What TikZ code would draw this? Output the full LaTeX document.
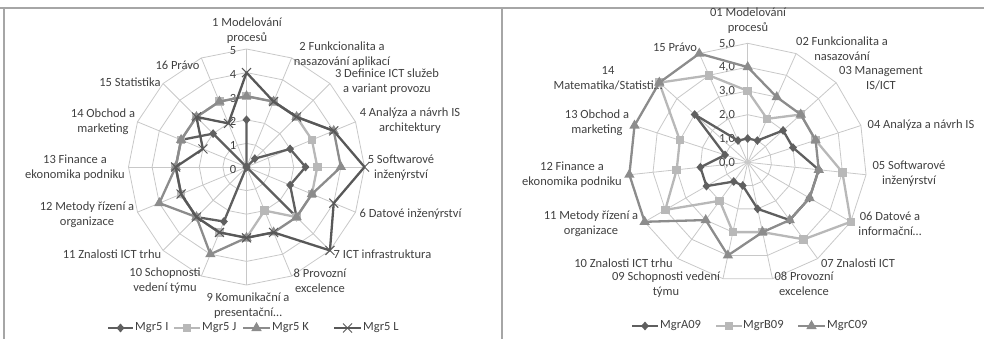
\documentclass[tikz,border=0pt]{standalone}
\usepackage{fontspec}
\setmainfont{Carlito}
\usetikzlibrary{shapes.geometric,shapes.misc}

\definecolor{txt}{HTML}{404040}
\definecolor{gridc}{HTML}{C8C8C8}
\definecolor{framec}{HTML}{A6A6A6}
\definecolor{sdark}{HTML}{5F5F5F}
\definecolor{slight}{HTML}{B8B8B8}
\definecolor{smid}{HTML}{8C8C8C}
\definecolor{sx}{HTML}{585858}

\tikzset{
  lbl/.style={font=\fontsize{12.5}{15}\selectfont, text=txt, align=center, inner sep=0pt},
  gridline/.style={draw=gridc, line width=0.8pt},
  series/.style={line width=2.3pt, line join=round},
  mkdia/.style={diamond, fill=sdark, inner sep=0pt, minimum width=8pt, minimum height=9pt},
  mksq/.style={rectangle, fill=slight, inner sep=0pt, minimum size=8.5pt},
  mktri/.style={regular polygon, regular polygon sides=3, fill=smid, inner sep=0pt, minimum size=12pt},
  mkx/.style={cross out, draw=sx, line width=1pt, inner sep=0pt, minimum size=8pt},
  framel/.style={draw=framec, line width=1.5pt},
}

\begin{document}
\begin{tikzpicture}[x=1pt,y=-1pt]
\useasboundingbox (0,0) rectangle (984,339);

% chart frames
\coordinate (ftl) at (0,8);
\coordinate (ftr) at (984,8);
\coordinate (fl1) at (4,8);
\coordinate (fl2) at (4,339);
\coordinate (fm1) at (502,8);
\coordinate (fm2) at (502,339);
\draw[framel] (ftl) -- (ftr);
\draw[framel] (fl1) -- (fl2);
\draw[framel, line width=2pt] (fm1) -- (fm2);

% ---------------- left radar: 16 axes, scale 0..5 ----------------
\begin{scope}[shift={(246.5,167)}]
  \def\u{23.6}
  \foreach \r in {1,...,5}
    \draw[gridline] (-90:{\r*\u}) \foreach \k in {1,...,15}{ -- ({-90+\k*22.5}:{\r*\u}) } -- cycle;
  \foreach \k in {0,...,15}
    \draw[gridline] (0,0) -- ({-90+\k*22.5}:{5*\u});
  \foreach \v in {0,...,5}
    \node[lbl] (lt\v) at (-13.5,{-\v*\u+2}) {\v};

  \foreach \v [count=\k from 0] in {2,0,0.5,2,2.5,2,3,0,0,2.5,3,3,3,3,2,0}
    \coordinate (LI\k) at ({-90+\k*22.5}:{\v*\u});
  \foreach \v [count=\k from 0] in {3,3,3,3,3,3,3,2,3,3,3,3,3,3,3,3}
    \coordinate (LJ\k) at ({-90+\k*22.5}:{\v*\u});
  \foreach \v [count=\k from 0] in {3,3,3,4,4,3,3,3,3,4,3,4,3,3,3,3}
    \coordinate (LK\k) at ({-90+\k*22.5}:{\v*\u});
  \foreach \v [count=\k from 0] in {4,3,3,4,5,4,5,3,3,3,3,3,3,2,3,2}
    \coordinate (LL\k) at ({-90+\k*22.5}:{\v*\u});

  \draw[series, sdark] (LI0) \foreach \k in {1,...,15}{ -- (LI\k) } -- cycle;
  \foreach \k in {0,...,15} \node[mkdia] (mLI\k) at (LI\k) {};
  \draw[series, slight] (LJ0) \foreach \k in {1,...,15}{ -- (LJ\k) } -- cycle;
  \foreach \k in {0,...,15} \node[mksq] (mLJ\k) at (LJ\k) {};
  \draw[series, smid] (LK0) \foreach \k in {1,...,15}{ -- (LK\k) } -- cycle;
  \foreach \k in {0,...,15} \node[mktri] (mLK\k) at (LK\k) {};
  \draw[series, sx] (LL0) \foreach \k in {1,...,15}{ -- (LL\k) } -- cycle;
  \foreach \k in {0,...,15} \node[mkx] (mLL\k) at (LL\k) {};
\end{scope}

% left category labels
\node[lbl] (la1)  at (247,30.5)  {1 Modelování\\procesů};
\node[lbl] (la2)  at (342,54.5)  {2 Funkcionalita a\\nasazování aplikací};
\node[lbl] (la3)  at (387,82)    {3 Definice ICT služeb\\a variant provozu};
\node[lbl] (la4)  at (410,120.5) {4 Analýza a návrh IS\\architektury};
\node[lbl] (la5)  at (401,168)   {5 Softwarové\\inženýrství};
\node[lbl] (la6)  at (410.5,214) {6 Datové inženýrství};
\node[lbl] (la7)  at (382.5,254) {7 ICT infrastruktura};
\node[lbl] (la8)  at (320,280.5) {8 Provozní\\excelence};
\node[lbl] (la9)  at (248,305.5) {9 Komunikační a\\presentační…};
\node[lbl] (la10) at (165,280.5) {10 Schopnosti\\vedení týmu};
\node[lbl] (la11) at (112,254)   {11 Znalosti ICT trhu};
\node[lbl] (la12) at (87,214.5)  {12 Metody řízení a\\organizace};
\node[lbl] (la13) at (75,167.5)  {13 Finance a\\ekonomika podniku};
\node[lbl] (la14) at (103,121.5) {14 Obchod a\\marketing};
\node[lbl] (la15) at (130,82)    {15 Statistika};
\node[lbl] (la16) at (177.5,65)  {16 Právo};

% left legend
\coordinate (gI1) at (108,328); \coordinate (gI2) at (133,328);
\draw[series, sdark] (gI1) -- (gI2);
\node[mkdia] (gmI) at (120.5,328) {};
\node[lbl, anchor=west] (gtI) at (135,328) {Mgr5 I};
\coordinate (gJ1) at (174,328); \coordinate (gJ2) at (200,328);
\draw[series, slight] (gJ1) -- (gJ2);
\node[mksq] (gmJ) at (187,328) {};
\node[lbl, anchor=west] (gtJ) at (202,328) {Mgr5 J};
\coordinate (gK1) at (243,328); \coordinate (gK2) at (270,328);
\draw[series, smid] (gK1) -- (gK2);
\node[mktri] (gmK) at (256.5,328) {};
\node[lbl, anchor=west] (gtK) at (272,328) {Mgr5 K};
\coordinate (gL1) at (334,328); \coordinate (gL2) at (361,328);
\draw[series, sx] (gL1) -- (gL2);
\node[mkx] (gmL) at (347.5,328) {};
\node[lbl, anchor=west] (gtL) at (363,328) {Mgr5 L};

% ---------------- right radar: 15 axes, scale 0,0..5,0 ----------------
\begin{scope}[shift={(747.7,162.3)}]
  \def\u{23.8}
  \foreach \r in {1,...,5}
    \draw[gridline] (-90:{\r*\u}) \foreach \k in {1,...,14}{ -- ({-90+\k*24}:{\r*\u}) } -- cycle;
  \foreach \k in {0,...,14}
    \draw[gridline] (0,0) -- ({-90+\k*24}:{5*\u});
  \foreach \v in {0,...,5}
    \node[lbl] (rt\v) at (-20.7,{-\v*\u+0.5}) {\v,0};

  \foreach \v [count=\k from 0] in {1,1,2,2,3,3,3,2,1,1,2,2,1,3,1}
    \coordinate (RA\k) at ({-90+\k*24}:{\v*\u});
  \foreach \v [count=\k from 0] in {3,2,3,3,4,5,4,3,3,2,4,3,3,5,4}
    \coordinate (RB\k) at ({-90+\k*24}:{\v*\u});
  \foreach \v [count=\k from 0] in {4,3,3,3,3,3,3,3,4,3,5,5,5,5,5}
    \coordinate (RC\k) at ({-90+\k*24}:{\v*\u});

  \draw[series, sdark] (RA0) \foreach \k in {1,...,14}{ -- (RA\k) } -- cycle;
  \foreach \k in {0,...,14} \node[mkdia] (mRA\k) at (RA\k) {};
  \draw[series, slight] (RB0) \foreach \k in {1,...,14}{ -- (RB\k) } -- cycle;
  \foreach \k in {0,...,14} \node[mksq] (mRB\k) at (RB\k) {};
  \draw[series, smid] (RC0) \foreach \k in {1,...,14}{ -- (RC\k) } -- cycle;
  \foreach \k in {0,...,14} \node[mktri] (mRC\k) at (RC\k) {};
\end{scope}

% right category labels
\node[lbl] (ra1)  at (748,20.5)  {01 Modelování\\procesů};
\node[lbl] (ra2)  at (842,49)    {02 Funkcionalita a\\nasazování};
\node[lbl] (ra3)  at (881,78.5)  {03 Management\\IS/ICT};
\node[lbl] (ra4)  at (921,125)   {04 Analýza a návrh IS};
\node[lbl] (ra5)  at (909,174)   {05 Softwarové\\inženýrství};
\node[lbl] (ra6)  at (890,224)   {06 Datové a\\informační…};
\node[lbl] (ra7)  at (858,263)   {07 Znalosti ICT};
\node[lbl] (ra8)  at (804,283.5) {08 Provozní\\excelence};
\node[lbl] (ra9)  at (666,284.5) {09 Schopnosti vedení\\týmu};
\node[lbl] (ra10) at (623.5,263) {10 Znalosti ICT trhu};
\node[lbl] (ra11) at (591,223.5) {11 Metody řízení a\\organizace};
\node[lbl] (ra12) at (572,174.5) {12 Finance a\\ekonomika podniku};
\node[lbl] (ra13) at (597,122.5) {13 Obchod a\\marketing};
\node[lbl] (ra14) at (608,78.5)  {14\\Matematika/Statisti…};
\node[lbl] (ra15) at (675,47)    {15 Právo};

% right legend
\coordinate (gA1) at (632,326); \coordinate (gA2) at (658,326);
\draw[series, sdark] (gA1) -- (gA2);
\node[mkdia] (gmA) at (645,326) {};
\node[lbl, anchor=west] (gtA) at (660,326) {MgrA09};
\coordinate (gB1) at (716,326); \coordinate (gB2) at (742,326);
\draw[series, slight] (gB1) -- (gB2);
\node[mksq] (gmB) at (729,326) {};
\node[lbl, anchor=west] (gtB) at (743,326) {MgrB09};
\coordinate (gC1) at (798,326); \coordinate (gC2) at (825,326);
\draw[series, smid] (gC1) -- (gC2);
\node[mktri] (gmC) at (811.5,326) {};
\node[lbl, anchor=west] (gtC) at (827,326) {MgrC09};
\end{tikzpicture}
\end{document}
